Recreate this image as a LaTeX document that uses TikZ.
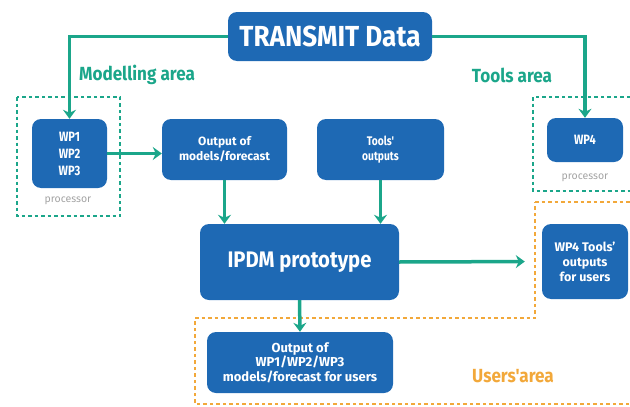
\documentclass[tikz,border=0pt]{standalone}
\usepackage{fontspec}
\setmainfont{Fira Sans}
\newfontfamily\cfont{Fira Sans}[FakeStretch=0.82]
\newfontfamily\mfont{Fira Sans}[FakeStretch=0.9]
\usetikzlibrary{arrows.meta}
\definecolor{boxblue}{HTML}{1E69B4}
\definecolor{teal2}{HTML}{1BA68A}
\definecolor{orng}{HTML}{F2A83A}
\definecolor{gtext}{HTML}{A3A3A3}
\tikzset{
  bbox/.style={draw=none, fill=boxblue, rounded corners=9pt, text=white, align=center, inner sep=0pt},
  arr/.style={draw=teal2, line width=3.5pt, -{Stealth[length=9pt,width=13pt,inset=3pt]}},
  gdash/.style={draw=teal2, line width=2.6pt, dash pattern=on 3.5pt off 3pt},
  odash/.style={draw=orng, line width=2.6pt, dash pattern=on 3.5pt off 3pt},
  lbl/.style={font=\mfont\bfseries\fontsize{19}{22}\selectfont, inner sep=0pt},
  proc/.style={text=gtext, font=\fontsize{10.5}{12}\selectfont, inner sep=0pt}
}
\begin{document}
\begin{tikzpicture}[x=1pt,y=-1pt]
\useasboundingbox (0,0) rectangle (630,407);
\begin{scope}
\clip (0,0) rectangle (630,407);
\draw[gdash] (17,97) rectangle (120,216);
\draw[gdash] (533,97) rectangle (650,191);
\draw[odash] (535,202) -- (650,202) -- (650,404) -- (195,404) -- (195,318) -- (535,318) -- cycle;
\end{scope}

\node[bbox, minimum width=204pt, minimum height=49pt, font=\mfont\bfseries\fontsize{29}{32}\selectfont] (T) at (330,36.5) {TRANSMIT Data};
\node[bbox, minimum width=75pt, minimum height=69pt, font=\cfont\bfseries\fontsize{13.5}{17}\selectfont] (W) at (69.5,153.5) {WP1\\WP2\\WP3};
\node[bbox, minimum width=125pt, minimum height=61pt, font=\bfseries\fontsize{12}{15}\selectfont] (O) at (224.5,149.5) {Output of\\models/forecast};
\node[bbox, minimum width=127pt, minimum height=61pt, font=\cfont\bfseries\fontsize{12.5}{15}\selectfont] (TO) at (380.5,149.5) {Tools'\\outputs};
\node[bbox, minimum width=76pt, minimum height=44pt, font=\cfont\bfseries\fontsize{13.5}{16}\selectfont] (W4) at (585,140) {WP4};
\node[bbox, minimum width=199pt, minimum height=76pt, font=\mfont\bfseries\fontsize{22.5}{26}\selectfont] (I) at (299.5,262) {IPDM prototype};
\node[bbox, minimum width=86pt, minimum height=75pt, font=\bfseries\fontsize{12.5}{15}\selectfont] (WU) at (585,261.5) {WP4 Tools'\\outputs\\for users};
\node[bbox, minimum width=186pt, minimum height=61pt, font=\bfseries\fontsize{13}{14.5}\selectfont] (OU) at (300,362.5) {Output of\\WP1/WP2/WP3\\models/forecast for users};

\node[lbl, text=teal2] (ma) at (137,75) {Modelling area};
\node[lbl, text=teal2] (ta) at (512,75) {Tools area};
\node[lbl, text=orng] (ua) at (513,376) {Users'area};
\node[proc] (p1) at (68,201) {processor};
\node[proc] (p2) at (585,178) {processor};

\draw[arr] (T.west) -| (W.north);
\draw[arr] (T.east) -| (W4.north);
\draw[arr] (W.east) -- (W.east -| O.west);
\draw[arr] (O.south) -- (O.south |- I.north);
\draw[arr] (TO.south) -- (TO.south |- I.north);
\draw[arr, shorten >=17pt] (I.east) -- (WU.west);
\draw[arr] (I.south) -- (OU.north);
\end{tikzpicture}
\end{document}
